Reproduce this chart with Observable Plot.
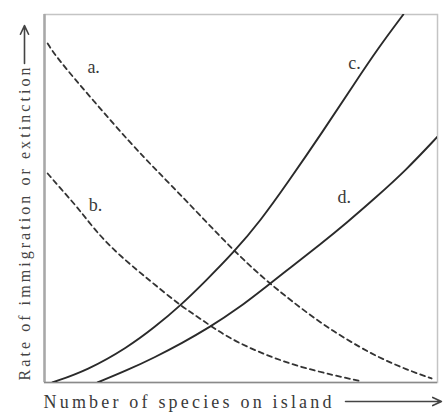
<!DOCTYPE html>
<html>
<head>
<meta charset="utf-8">
<script src="https://cdn.jsdelivr.net/npm/d3@7"></script>
<script src="https://cdn.jsdelivr.net/npm/@observablehq/plot@0.6"></script>
<style>
  html, body { margin: 0; padding: 0; background: #fff; }
  #chart { width: 443px; height: 414px; }
</style>
</head>
<body>
<div id="chart"></div>
<script>
// Number of species on island (0–100) vs rate (0–100)
const curveA = [[0.8,92.1],[3.3,88],[12.5,76.5],[21.9,65],[28.8,57.3],[35.9,49.6],[48.1,35.8],[55.7,28.4],[60,24.6],[70.5,15.8],[83.2,7.6],[92.6,3.3],[98.5,1.1]];
const curveB = [[0.8,56.8],[4.1,52.7],[8.4,47.6],[13,41.2],[18,35.6],[23.7,30.4],[27.7,26.9],[34.6,20.9],[39.7,17.3],[46.6,12.2],[55,8],[64,4.5],[73.8,1.9],[80.7,0.3]];
const curveC = [[2,0],[10.9,3.3],[21.1,9.5],[28,15],[34.6,20.9],[41,27.6],[48.1,35.3],[55,44],[62,54.5],[70.5,67.7],[78.9,81.3],[85,91],[91.3,100]];
const curveD = [[13.5,0],[21,3.3],[28,6.8],[35,10.7],[42,15],[49,19.9],[56.7,26.3],[63,31.6],[70,37.4],[77,43.5],[84,50],[92,57.7],[100,66.8]];

const curveNames = ["a.", "b.", "c.", "d."];
const labelX = [12.5, 13, 78.9, 76.3];
const labelY = [85.6, 48.1, 86.7, 50.3];

const xLabel = "Number of species on island";
const yLabel = "Rate of immigration or extinction";

const toRows = (pts, name) => pts.map(([x, y]) => ({x, y, name}));
const solid = [...toRows(curveC, "c"), ...toRows(curveD, "d")];
const dashed = [...toRows(curveA, "a"), ...toRows(curveB, "b")];
const labels = curveNames.map((t, i) => ({t, x: labelX[i], y: labelY[i]}));

const font = "Liberation Serif, DejaVu Serif, serif";

const plot = Plot.plot({
  width: 443,
  height: 414,
  marginLeft: 44,
  marginRight: 6,
  marginTop: 14,
  marginBottom: 32,
  x: {domain: [0, 100], axis: null},
  y: {domain: [0, 100], axis: null},
  style: {fontFamily: font, background: "#fff"},
  marks: [
    Plot.frame({stroke: "#c4c4c4", strokeWidth: 1.5}),
    Plot.ruleX([0], {stroke: "#a8a8a8", strokeWidth: 2.5}),
    Plot.ruleY([0], {stroke: "#8a8a8a", strokeWidth: 1.5}),
    Plot.line(dashed, {x: "x", y: "y", z: "name", curve: "basis", stroke: "#333", strokeWidth: 1.8, strokeDasharray: "5,4", clip: true}),
    Plot.line(solid, {x: "x", y: "y", z: "name", curve: "basis", stroke: "#2a2a2a", strokeWidth: 1.9, clip: true}),
    Plot.text(labels, {x: "x", y: "y", text: "t", fontSize: 18, fill: "#3a3a3a", fontFamily: font}),
    Plot.text([xLabel], {frameAnchor: "bottom-left", textAnchor: "start", lineAnchor: "middle", dx: -1, dy: 20, fontSize: 18, fill: "#3a3a3a", fontFamily: font}),
    Plot.text([yLabel], {frameAnchor: "left", textAnchor: "middle", lineAnchor: "middle", rotate: -90, dx: -20, dy: 25.5, fontSize: 16, fill: "#444", fontFamily: font}),
    Plot.arrow([{x1: 76.6, x2: 101, y: 0}], {x1: "x1", x2: "x2", y1: "y", y2: "y", dy: 19, stroke: "#444", strokeWidth: 1.6, headLength: 9, headAngle: 50, clip: false}),
    Plot.arrow([{x: 0, y1: 86.7, y2: 97}], {x1: "x", x2: "x", y1: "y1", y2: "y2", dx: -20, stroke: "#444", strokeWidth: 1.6, headLength: 9, headAngle: 50, clip: false})
  ]
});

d3.select(plot).selectAll("text").each(function () {
  const t = this.textContent;
  if (t === xLabel) d3.select(this).attr("textLength", 288).attr("lengthAdjust", "spacing");
  if (t === yLabel) d3.select(this).attr("textLength", 313).attr("lengthAdjust", "spacing");
});
document.getElementById("chart").appendChild(plot);
</script>
</body>
</html>
